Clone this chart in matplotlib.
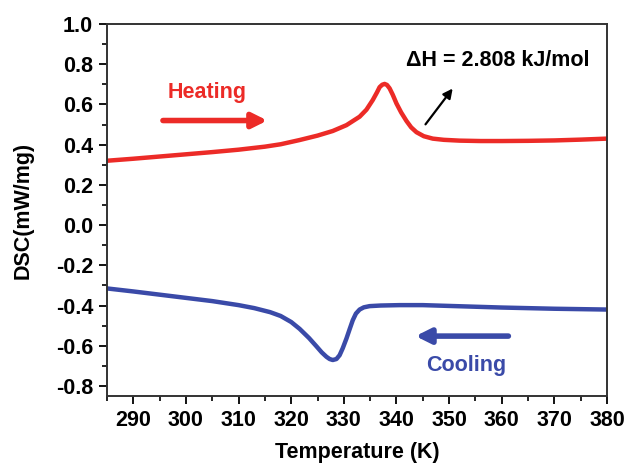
import numpy as np
import matplotlib.pyplot as plt
from matplotlib.ticker import MultipleLocator

plt.rcParams['font.family'] = ['Liberation Sans', 'DejaVu Sans']
plt.rcParams['font.weight'] = 'bold'

# heating scan
heat_T = [285, 290, 295, 300, 305, 310, 315, 318, 321.6, 325, 327.9, 330.5, 333.0,
          334.3, 335.5, 336.3, 336.8, 337.3, 337.75, 338.2, 338.7, 339.3, 340.0,
          340.9, 341.9, 342.8, 343.8, 345.2, 346.9, 349, 352, 356, 360, 365, 370,
          375, 380]
heat_dsc = [0.320, 0.330, 0.341, 0.352, 0.363, 0.375, 0.390, 0.402, 0.423, 0.445, 0.468,
            0.497, 0.539, 0.574, 0.622, 0.660, 0.686, 0.698, 0.702, 0.697, 0.680,
            0.648, 0.605, 0.560, 0.518, 0.486, 0.462, 0.442, 0.430, 0.424, 0.420,
            0.418, 0.418, 0.419, 0.421, 0.425, 0.430]

# cooling scan
cool_T = [285, 290, 295, 300, 305, 310, 313, 316, 318, 320, 321.6, 323.4, 324.8,
          325.8, 326.7, 327.3, 327.9, 328.6, 329.2, 329.8, 330.5, 331.1, 331.7,
          332.3, 333.0, 333.8, 334.9, 337, 340.6, 345, 350, 355, 360, 365, 370,
          375, 380]
cool_dsc = [-0.315, -0.330, -0.346, -0.362, -0.378, -0.398, -0.413, -0.433, -0.452,
            -0.482, -0.516, -0.562, -0.603, -0.633, -0.655, -0.666, -0.671, -0.666,
            -0.647, -0.612, -0.564, -0.518, -0.473, -0.440, -0.420, -0.409, -0.403,
            -0.400, -0.398, -0.398, -0.402, -0.406, -0.410, -0.413, -0.416, -0.418,
            -0.420]

y_ticks = [-0.8, -0.6, -0.4, -0.2, 0.0, 0.2, 0.4, 0.6, 0.8, 1.0]
x_ticks = [290, 300, 310, 320, 330, 340, 350, 360, 370, 380]

red = '#EC2B27'
blue = '#3A4AA8'

fig = plt.figure(figsize=(6.27, 4.67), dpi=100)
ax = fig.add_axes([0.1707, 0.152, 0.7973, 0.7966])

ax.plot(heat_T, heat_dsc, color=red, lw=3.2, solid_capstyle='round',
        solid_joinstyle='round')
ax.plot(cool_T, cool_dsc, color=blue, lw=3.2, solid_capstyle='round',
        solid_joinstyle='round')

ax.set_xlim(285, 380)
ax.set_ylim(-0.85, 1.0)
ax.set_xticks(x_ticks)
ax.set_xticklabels([str(v) for v in x_ticks])
ax.set_yticks(y_ticks)
ax.set_yticklabels(['%.1f' % v for v in y_ticks])
ax.xaxis.set_minor_locator(MultipleLocator(5))
ax.yaxis.set_minor_locator(MultipleLocator(0.1))
ax.tick_params(which='major', direction='out', length=6, width=1.3, labelsize=15.5,
               pad=4)
ax.tick_params(which='minor', direction='out', length=3.5, width=1.2)
for s in ax.spines.values():
    s.set_linewidth(1.4)
    s.set_color('#333333')

ax.set_xlabel('Temperature (K)', fontsize=15.5, fontweight='bold', labelpad=8)
ax.set_ylabel('DSC(mW/mg)', fontsize=15.5, fontweight='bold', labelpad=16)

ax.text(304, 0.657, 'Heating', color=red, fontsize=15.5, fontweight='bold',
        ha='center', va='center')
ax.annotate('', xy=(316.0, 0.52), xytext=(295.1, 0.52),
            arrowprops=dict(arrowstyle='-|>', color=red, lw=4, mutation_scale=22))

ax.text(353.3, -0.697, 'Cooling', color=blue, fontsize=15.5, fontweight='bold',
        ha='center', va='center')
ax.annotate('', xy=(343.1, -0.552), xytext=(361.8, -0.552),
            arrowprops=dict(arrowstyle='-|>', color=blue, lw=4, mutation_scale=22))

ax.text(359.2, 0.82, '\u0394H = 2.808 kJ/mol', color='black', fontsize=15.5,
        fontweight='bold', ha='center', va='center')
ax.annotate('', xy=(351.0, 0.69), xytext=(345.2, 0.49),
            arrowprops=dict(arrowstyle='-|>', color='black', lw=1.6, mutation_scale=14))

fig.savefig('out.png', dpi=100)
